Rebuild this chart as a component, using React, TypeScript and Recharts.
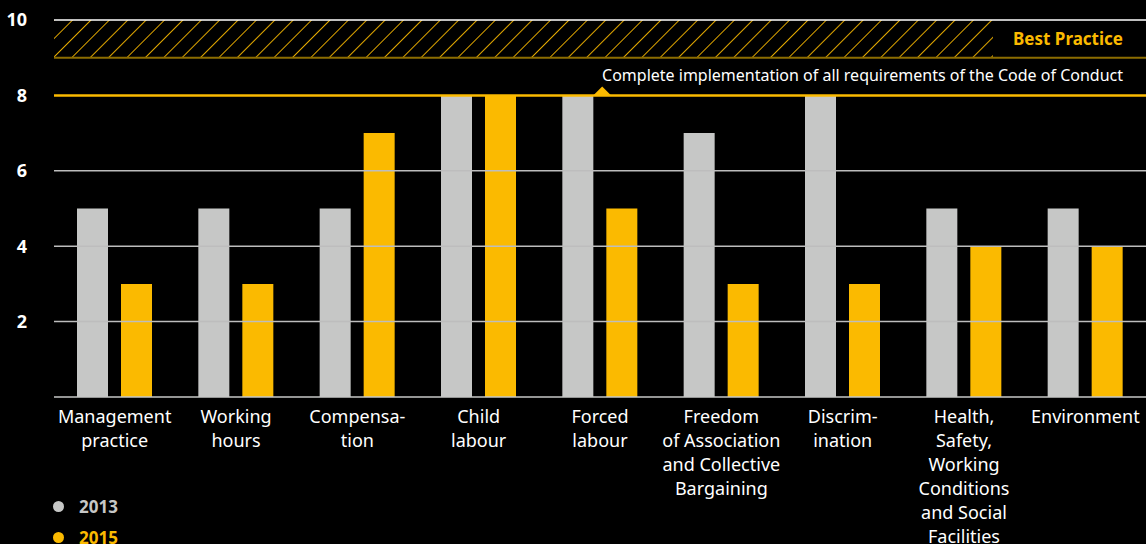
import React from "react";
import {
  BarChart,
  Bar,
  XAxis,
  YAxis,
  ReferenceLine,
  ReferenceArea,
} from "recharts";

const categories = [
  "Management\npractice",
  "Working\nhours",
  "Compensa-\ntion",
  "Child\nlabour",
  "Forced\nlabour",
  "Freedom\nof Association\nand Collective\nBargaining",
  "Discrim-\nination",
  "Health,\nSafety,\nWorking\nConditions\nand Social\nFacilities",
  "Environment",
];
const values2013 = [5, 5, 5, 8, 8, 7, 8, 5, 5];
const values2015 = [3, 3, 7, 8, 5, 3, 3, 4, 4];
const yTicks = [2, 4, 6, 8, 10];
const gridValues = [2, 4, 6];
const seriesLegend = [
  { label: "2013", color: "#c6c7c6" },
  { label: "2015", color: "#fbba00" },
];

const GREY = "#c6c7c6";
const GOLD = "#fbba00";
const FONT = "'Noto Sans', sans-serif";

const data = categories.map((name, i) => ({
  name,
  y2013: values2013[i],
  y2015: values2015[i],
}));

function CategoryTick(props: any) {
  const { x, y, payload } = props;
  const lines = String(payload.value).split("\n");
  return (
    <text x={x} y={y} textAnchor="middle" fill="#fff" fontSize={18} fontFamily={FONT}>
      {lines.map((l, i) => (
        <tspan key={i} x={x} dy={i === 0 ? 18 : 24}>
          {l}
        </tspan>
      ))}
    </text>
  );
}

function HatchShape(props: any) {
  const { x, y, width, height } = props;
  const labelSpace = 153;
  return (
    <g>
      <rect x={x} y={y} width={width - labelSpace} height={height} fill="url(#hatch)" />
      <text
        x={x + width - 23}
        y={y + height / 2 + 6}
        textAnchor="end"
        fill={GOLD}
        fontSize={17}
        fontWeight={700}
        fontFamily={FONT}
      >
        Best Practice
      </text>
    </g>
  );
}

function CodeLabel(props: any) {
  const { viewBox } = props;
  const { x, y, width } = viewBox;
  const tx = x + width * 0.502;
  return (
    <g>
      <polygon points={`${tx - 9},${y} ${tx + 9},${y} ${tx},${y - 9}`} fill={GOLD} />
      <text
        x={x + width - 23}
        y={y - 14}
        textAnchor="end"
        fill="#fff"
        fontSize={16}
        fontFamily={FONT}
      >
        Complete implementation of all requirements of the Code of Conduct
      </text>
    </g>
  );
}

export default function App() {
  return (
    <div style={{ position: "fixed", left: 0, top: 0, width: 1146, height: 544, background: "#000", overflow: "hidden" }}>
      <BarChart
        width={1146}
        height={544}
        data={data}
        margin={{ top: 20, right: 0, left: 0, bottom: 117 }}
        barSize={31}
        barGap={13}
      >
        <defs>
          <pattern id="hatch" patternUnits="userSpaceOnUse" width={13} height={13} patternTransform="rotate(45)">
            <line x1={0} y1={0} x2={0} y2={13} stroke={GOLD} strokeWidth={1.8} />
          </pattern>
        </defs>
        <XAxis
          dataKey="name"
          height={30}
          interval={0}
          tickLine={false}
          axisLine={{ stroke: GREY, strokeWidth: 1.5 }}
          tick={<CategoryTick />}
        />
        <YAxis
          domain={[0, 10]}
          ticks={yTicks}
          width={54}
          axisLine={false}
          tickLine={false}
          tickMargin={21}
          tick={{ fill: "#fff", fontSize: 18, fontWeight: 700, fontFamily: FONT }}
        />
        <ReferenceArea y1={9} y2={10} shape={<HatchShape />} ifOverflow="visible" />
        {gridValues.map((v) => (
          <ReferenceLine key={v} y={v} stroke="#bdbdbd" strokeWidth={1.5} />
        ))}
        <ReferenceLine y={10} stroke="#fff" strokeWidth={1.5} />
        <ReferenceLine y={9} stroke="#8c6d00" strokeWidth={2} />
        <Bar dataKey="y2013" name="2013" fill={GREY} isAnimationActive={false} />
        <Bar dataKey="y2015" name="2015" fill={GOLD} isAnimationActive={false} />
        <ReferenceLine y={8} stroke={GOLD} strokeWidth={2.5} label={<CodeLabel />} />
      </BarChart>
      <div style={{ position: "absolute", left: 53, top: 491, fontFamily: FONT }}>
        {seriesLegend.map((it) => (
          <div
            key={it.label}
            style={{ display: "flex", alignItems: "center", height: 31, color: it.color, fontWeight: 700, fontSize: 17 }}
          >
            <span
              style={{ width: 11, height: 11, borderRadius: "50%", background: it.color, marginRight: 15, display: "inline-block" }}
            />
            {it.label}
          </div>
        ))}
      </div>
    </div>
  );
}
